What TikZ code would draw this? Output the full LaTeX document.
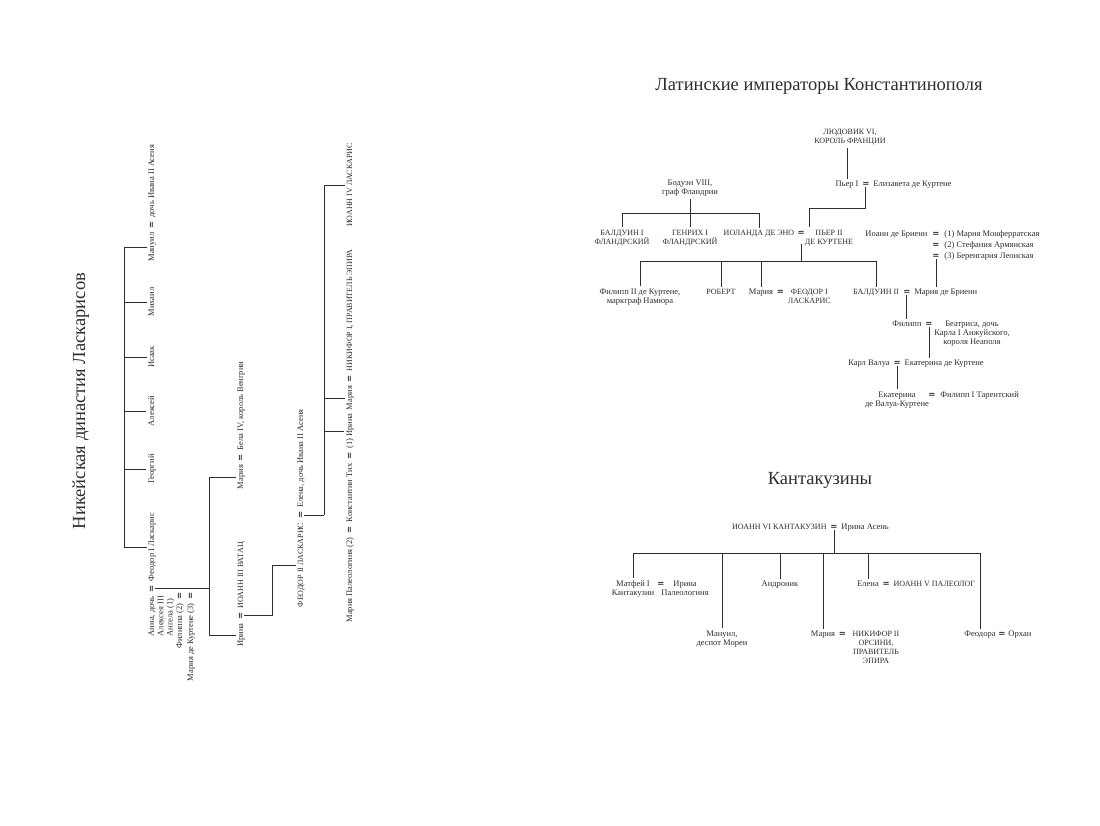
\documentclass[tikz,border=0pt]{standalone}
\usepackage{fontspec}
\setmainfont{Liberation Serif}
\newfontfamily\eqfont{DejaVu Sans}
\definecolor{ink}{HTML}{2E2E2E}
\newcommand{\ml}[1]{\begin{tabular}[t]{@{}c@{}}#1\end{tabular}}
\newcommand{\mll}[1]{\begin{tabular}[t]{@{}l@{}}#1\end{tabular}}
\tikzset{
  lbl/.style={font=\fontsize{8.5}{9.3}\selectfont, text=ink, inner xsep=0pt, inner ysep=1.5pt, anchor=base},
  cp/.style={lbl, font=\fontsize{8}{9.3}\selectfont},
  rl/.style={lbl, rotate=90},
  rcp/.style={cp, rotate=90},
  eqn/.style={font=\eqfont\fontsize{8.5}{9}\selectfont\bfseries, text=ink, inner xsep=0pt, inner ysep=1pt, anchor=base},
  req/.style={eqn, rotate=90},
  ttl/.style={font=\fontsize{18.5}{20}\selectfont, text=ink, inner sep=0pt, anchor=base},
  ln/.style={draw=ink, line width=1pt},
}
\begin{document}
\begin{tikzpicture}[x=1pt, y=-1pt]
\fill[white] (0,0) rectangle (1100,825);
\useasboundingbox (0,0) rectangle (1100,825);

% ================= Latin emperors =================
\node[ttl] (tLat) at (819,90) {Латинские императоры Константинополя};
\node[cp] (ludo) at (850,134) {\ml{ЛЮДОВИК VI,\\КОРОЛЬ ФРАНЦИИ}};
\node[lbl] (pierI) at (847,186) {Пьер I};
\node[eqn, anchor=base west] (mP1) at ([xshift=3.5pt]pierI.base east) {=};
\node[lbl, anchor=base west] (eliz) at ([xshift=3.5pt]mP1.base east) {Елизавета де Куртене};
\draw[ln] (pierI.north |- ludo.south) -- (pierI.north);

\node[lbl] (bod) at (690,185) {\ml{Бодуэн VIII,\\граф Фландрии}};
\coordinate (bar1) at (0,213);
\node[cp] (bal1) at (622,235) {\ml{БАЛДУИН I\\ФЛАНДРСКИЙ}};
\node[cp] (gen1) at (690,235) {\ml{ГЕНРИХ I\\ФЛАНДРСКИЙ}};
\node[cp] (iol) at (759,235) {ИОЛАНДА ДЕ ЭНО};
\node[eqn, anchor=base west] (mIo) at ([xshift=3pt]iol.base east) {=};
\node[cp] (pier2) at (829,235) {\ml{ПЬЕР II\\ДЕ КУРТЕНЕ}};
\draw[ln] (bod.south) -- (bod.south |- bar1);
\draw[ln] (bal1.north) |- (bar1 -| iol.north) -- (iol.north);
\draw[ln] (gen1.north) -- (gen1.north |- bar1);
\coordinate (j1) at (809,208);
\draw[ln] (mP1.south) |- (j1) -- (j1 |- pier2.north);

\coordinate (bar2) at (0,261);
\node[lbl] (fil2) at (640,294) {\ml{Филипп II де Куртене,\\маркграф Намюра}};
\node[cp] (rob) at (721,294) {РОБЕРТ};
\node[lbl] (mar1) at (761,294) {Мария};
\node[eqn, anchor=base west] (mMF) at ([xshift=3.5pt]mar1.base east) {=};
\node[cp, anchor=base west] (feo1) at ([xshift=3.5pt]mMF.base east) {\ml{ФЕОДОР I\\ЛАСКАРИС}};
\node[cp] (bal2) at (876,294) {БАЛДУИН II};
\node[eqn, anchor=base west] (mB2) at ([xshift=4pt]bal2.base east) {=};
\node[lbl, anchor=base west] (marB) at ([xshift=3.5pt]mB2.base east) {Мария де Бриенн};
\draw[ln] ([yshift=-8pt]mIo.south) -- (mIo.south |- bar2);
\draw[ln] (fil2.north) |- (bar2 -| bal2.north) -- (bal2.north);
\draw[ln] (rob.north) -- (rob.north |- bar2);
\draw[ln] (mar1.north) -- (mar1.north |- bar2);

\node[eqn] (mJ1) at (936,236) {=};
\node[lbl, anchor=base east] (joan) at ([xshift=-4.5pt]mJ1.base west) {Иоанн де Бриенн};
\node[lbl, anchor=base west] (wife1) at ([xshift=4.5pt]mJ1.base east) {(1) Мария Монферратская};
\node[eqn] (mJ2) at (936,247) {=};
\node[lbl, anchor=base west] (wife2) at ([xshift=4.5pt]mJ2.base east) {(2) Стефания Армянская};
\node[eqn] (mJ3) at (936,258) {=};
\node[lbl, anchor=base west] (wife3) at ([xshift=4.5pt]mJ3.base east) {(3) Беренгария Леонская};
\draw[ln] (mJ3.south) -- (mJ3.south |- marB.north);

\node[lbl] (fil) at (907,326) {Филипп};
\node[eqn, anchor=base west] (mFB) at ([xshift=3.5pt]fil.base east) {=};
\node[lbl] (beat) at (972,326) {\ml{Беатриса, дочь\\Карла I Анжуйского,\\короля Неаполя}};
\draw[ln] (mB2.south) -- (mB2.south |- fil.north);

\node[lbl] (karl) at (869,365) {Карл Валуа};
\node[eqn, anchor=base west] (mKE) at ([xshift=3.5pt]karl.base east) {=};
\node[lbl, anchor=base west] (ekK) at ([xshift=3.5pt]mKE.base east) {Екатерина де Куртене};
\draw[ln] (mFB.south) -- (mFB.south |- ekK.north);

\node[lbl] (ekV) at (897,397) {\ml{Екатерина\\де Валуа-Куртене}};
\node[eqn] (mEF) at (932,397) {=};
\node[lbl, anchor=base west] (filT) at ([xshift=4.5pt]mEF.base east) {Филипп I Тарентский};
\draw[ln] (mKE.south) -- (mKE.south |- ekV.north);

% ================= Kantakuzins =================
\node[ttl] (tKan) at (820,484) {Кантакузины};
\node[eqn] (mK) at (834,529) {=};
\node[cp, anchor=base east] (ioann6) at ([xshift=-3.5pt]mK.base west) {ИОАНН VI КАНТАКУЗИН};
\node[lbl, anchor=base west] (irA) at ([xshift=3.5pt]mK.base east) {Ирина Асень};
\coordinate (bar3) at (0,553);
\node[lbl] (matf) at (633,586) {\ml{Матфей I\\Кантакузин}};
\node[eqn] (mMI) at (661,586) {=};
\node[lbl] (irP) at (685,586) {\ml{Ирина\\Палеологиня}};
\node[lbl] (man2) at (722,636) {\ml{Мануил,\\деспот Мореи}};
\node[lbl] (andr) at (780,586) {Андроник};
\node[lbl] (mar2) at (823,636) {Мария};
\node[eqn, anchor=base west] (mMN) at ([xshift=3.5pt]mar2.base east) {=};
\node[cp] (nik2) at (876,636) {\ml{НИКИФОР II\\ОРСИНИ,\\ПРАВИТЕЛЬ\\ЭПИРА}};
\node[lbl] (ele) at (868,586) {Елена};
\node[eqn, anchor=base west] (mEI) at ([xshift=3.5pt]ele.base east) {=};
\node[cp, anchor=base west] (ioann5) at ([xshift=3.5pt]mEI.base east) {ИОАНН V ПАЛЕОЛОГ};
\node[lbl] (feod) at (980,636) {Феодора};
\node[eqn, anchor=base west] (mFO) at ([xshift=2.5pt]feod.base east) {=};
\node[lbl, anchor=base west] (orh) at ([xshift=2.5pt]mFO.base east) {Орхан};
\draw[ln] (mK.south) -- (mK.south |- bar3);
\draw[ln] (matf.north) |- (bar3 -| feod.north) -- (feod.north);
\foreach \n in {man2, andr, mar2, ele} \draw[ln] (\n.north) -- (\n.north |- bar3);

% ================= Nicaean Laskarids (rotated) =================
\node[ttl, rotate=90] (tNic) at (85,401) {Никейская династия Ласкарисов};
\coordinate (lb1) at (124,0);
\node[rl] (sMan) at (154,247) {Мануил};
\node[req, anchor=base west] (mMan) at ([yshift=3.5pt]sMan.base east) {=};
\node[rl, anchor=base west] (dIv1) at ([yshift=3.5pt]mMan.base east) {дочь Ивана II Асеня};
\node[rl] (sMih) at (154,302) {Михаил};
\node[rl] (sIs) at (154,357) {Исаак};
\node[rl] (sAl) at (154,411) {Алексей};
\node[rl] (sGe) at (154,469) {Георгий};
\node[rl] (fL) at (154,547) {Феодор I Ласкарис};
\node[req, anchor=base east] (mFL) at ([yshift=-3.5pt]fL.base west) {=};
\node[rl, anchor=base east] (anna) at ([yshift=-3.5pt]mFL.base west) {\mll{Анна, дочь\\Алексея III\\Ангела (1)}};
\node[req] (mFi) at (182,596) {=};
\node[rl, anchor=base east] (fili) at ([yshift=-3.5pt]mFi.base west) {Филиппа (2)};
\node[req] (mMK) at (193,596) {=};
\node[rl, anchor=base east] (marK) at ([yshift=-3.5pt]mMK.base west) {Мария де Куртене (3)};
\draw[ln] (sMan.north) -- (sMan.north -| lb1) -- (fL.north -| lb1) -- (fL.north);
\foreach \n in {sMih,sIs,sAl,sGe} \draw[ln] (\n.north) -- (\n.north -| lb1);

\coordinate (lb2) at (209,0);
\node[rl] (irI) at (243,635) {Ирина};
\node[req, anchor=base west] (mIV) at ([yshift=3.5pt]irI.base east) {=};
\node[rcp, anchor=base west] (vat) at ([yshift=3.5pt]mIV.base east) {ИОАНН III ВАТАЦ};
\node[rl] (marV) at (243,477) {Мария};
\node[req, anchor=base west] (mMB) at ([yshift=3.5pt]marV.base east) {=};
\node[rl, anchor=base west] (bela) at ([yshift=3.5pt]mMB.base east) {Бела IV, король Венгрии};
\draw[ln] (mFL.south) -- (mFL.south -| lb2);
\draw[ln] (marV.north) -- (marV.north -| lb2) -- (irI.north -| lb2) -- (irI.north);

\coordinate (lb3) at (272,0);
\node[rcp] (fe2) at (303,565) {ФЕОДОР II ЛАСКАРИС};
\node[req, anchor=base west] (mF2) at ([yshift=3.5pt]fe2.base east) {=};
\node[rl, anchor=base west] (elen) at ([yshift=3.5pt]mF2.base east) {Елена, дочь Ивана II Асеня};
\draw[ln] (mIV.south) -| (fe2.north -| lb3) -- (fe2.north);

\coordinate (lb4) at (324,0);
\node[rcp] (io4) at (352,185) {ИОАНН IV ЛАСКАРИС};
\node[rl] (marN) at (352,398) {Мария};
\node[req, anchor=base west] (mMN1) at ([yshift=3.5pt]marN.base east) {=};
\node[rcp, anchor=base west] (nik1) at ([yshift=3.5pt]mMN1.base east) {НИКИФОР I, ПРАВИТЕЛЬ ЭПИРА};
\node[rl] (irT) at (352,431) {(1) Ирина};
\node[req, anchor=base east] (mKT1) at ([yshift=-3.5pt]irT.base west) {=};
\node[rl, anchor=base east] (konst) at ([yshift=-3.5pt]mKT1.base west) {Константин Тих};
\node[req, anchor=base east] (mKT2) at ([yshift=-3.5pt]konst.base west) {=};
\node[rl, anchor=base east] (marP) at ([yshift=-3.5pt]mKT2.base west) {Мария Палеологиня (2)};
\draw[ln] (mF2.south) -- (mF2.south -| lb4);
\draw[ln] (io4.north) -- (io4.north -| lb4) -- (mF2.south -| lb4);
\draw[ln] (marN.north) -- (marN.north -| lb4);
\draw[ln] (irT.north) -- (irT.north -| lb4);
\end{tikzpicture}
\end{document}
